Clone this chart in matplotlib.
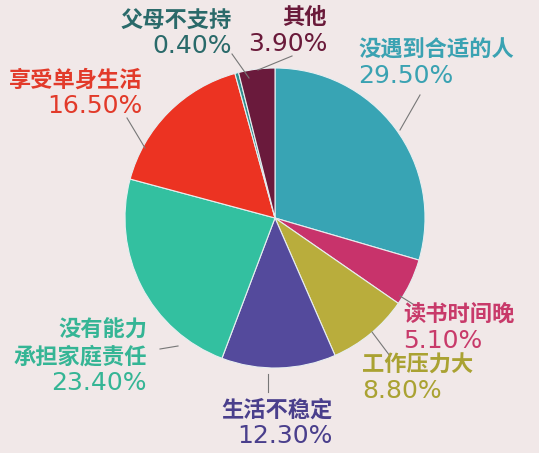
import matplotlib.pyplot as plt

plt.rcParams['font.family'] = ['Noto Sans CJK SC', 'DejaVu Sans']

labels = ["没遇到合适的人", "读书时间晚", "工作压力大", "生活不稳定",
          "没有能力\n承担家庭责任", "享受单身生活", "父母不支持", "其他"]
values = [29.5, 5.1, 8.8, 12.3, 23.4, 16.5, 0.4, 3.9]
colors = ["#38a4b4", "#c8336b", "#b9ad3c", "#544a9c", "#33c0a0", "#ec3322", "#2f8d8d", "#6a1a3c"]
text_colors = ["#3aa2b2", "#c83a6a", "#aaa232", "#4a3f8c", "#35b595", "#e23a2a", "#2a6a6a", "#6a1a3a"]

# label anchor (x, y of first line in pixels from top-left), alignment
label_pos = [(358, 50, "left"), (403, 315, "left"), (362, 365, "left"), (333, 410, "right"),
             (147, 330, "right"), (142, 80, "right"), (232, 20, "right"), (327, 18, "right")]
leaders = [((400, 130), (420, 95)), ((400, 296), (416, 306)), ((372, 332), (390, 356)),
           ((268, 374), (268, 392)), ((178, 346), (160, 349)), ((145, 148), (127, 118)),
           ((249, 78), (232, 54)), ((258, 70), (292, 56))]

W, H = 539, 453
bg = "#f1e8e8"
fig = plt.figure(figsize=(W / 100, H / 100), dpi=100, facecolor=bg)
ax = fig.add_axes([0, 0, 1, 1])
ax.set_facecolor(bg)

ax.pie(values, colors=colors, startangle=90, counterclock=False,
       center=(275, H - 218), radius=150, frame=True,
       wedgeprops=dict(edgecolor="#e8eef0", linewidth=0.8))
ax.set_xlim(0, W)
ax.set_ylim(0, H)
ax.set_aspect("equal")
ax.axis("off")

for (a, b) in leaders:
    ax.plot([a[0], b[0]], [H - a[1], H - b[1]], color="#777777", lw=0.8)

for lab, v, tc, (x, y, ha) in zip(labels, values, text_colors, label_pos):
    lines = lab.split("\n")
    for i, line in enumerate(lines):
        ax.text(x, H - y - 27 * i, line, color=tc, fontsize=16, fontweight="bold",
                ha=ha, va="center")
    ax.text(x, H - y - 27 * len(lines) + 1, "%.2f%%" % v, color=tc, fontsize=18,
            ha=ha, va="center", family=["DejaVu Sans"])

fig.savefig("out.png", dpi=100, facecolor=bg)
